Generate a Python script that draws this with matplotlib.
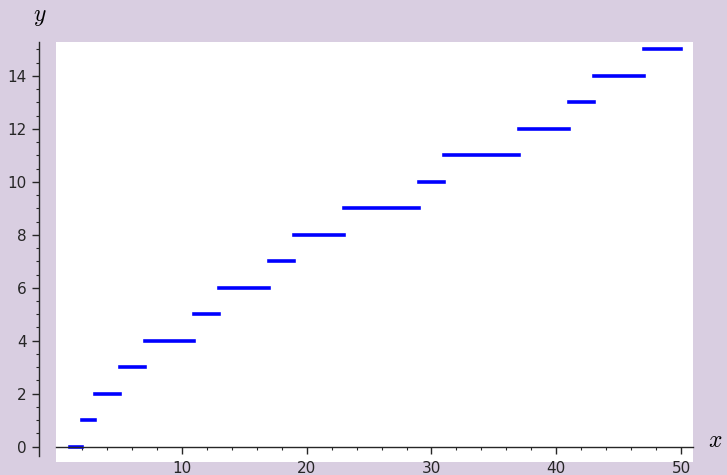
"""Prime counting function pi(x) as a step plot, Sage style."""

import matplotlib
matplotlib.use("Agg")
import matplotlib.pyplot as plt
import numpy as np
from matplotlib.ticker import FixedLocator, MultipleLocator

# step segments: value of pi(x) on [start, end)
seg_start = [1, 2, 3, 5, 7, 11, 13, 17, 19, 23, 29, 31, 37, 41, 43, 47]
seg_end = [2, 3, 5, 7, 11, 13, 17, 19, 23, 29, 31, 37, 41, 43, 47, 50]
pi_vals = [0, 1, 2, 3, 4, 5, 6, 7, 8, 9, 10, 11, 12, 13, 14, 15]

BG = "#d9cee1"

plt.rcParams["mathtext.fontset"] = "cm"


def main():
    fig = plt.figure(figsize=(7.27, 4.75), dpi=100, facecolor=BG)
    ax = fig.add_axes([55.7 / 727, 1 - 462 / 475, (693 - 55.7) / 727, (462 - 42.3) / 475])
    ax.set_facecolor("white")

    for x0, x1, y in zip(seg_start, seg_end, pi_vals):
        ax.plot([x0, x1], [y, y], color="#0000ff", lw=2.6, solid_capstyle="projecting")

    ax.set_xlim(-0.12, 50.96)
    ax.set_ylim(-0.58, 15.27)

    ax.spines["top"].set_visible(False)
    ax.spines["right"].set_visible(False)
    ax.spines["bottom"].set_position(("data", 0))
    ax.spines["left"].set_position(("outward", 12.3))
    ax.spines["left"].set_bounds(-0.35, 15.27)
    for s in ("left", "bottom"):
        ax.spines[s].set_linewidth(1.0)
        ax.spines[s].set_color("0.15")

    ax.set_xticks([10, 20, 30, 40, 50])
    ax.xaxis.set_minor_locator(FixedLocator(np.arange(2, 51, 2)))
    ax.yaxis.set_major_locator(MultipleLocator(2))
    ax.yaxis.set_minor_locator(FixedLocator(np.arange(0, 15.3, 0.5)))
    ax.tick_params(which="major", direction="out", length=5, width=1, labelsize=11,
                   color="0.15", labelcolor="0.15")
    ax.tick_params(which="minor", direction="out", length=2.5, width=0.8, color="0.15")
    ax.tick_params(axis="x", pad=5)

    fig.text(40 / 727, 1 - 16 / 475, "$y$", fontsize=17, ha="center", va="center")
    fig.text(715 / 727, 1 - 440 / 475, "$x$", fontsize=17, ha="center", va="center")

    fig.savefig("out.png", dpi=100, facecolor=BG)


if __name__ == "__main__":
    main()
